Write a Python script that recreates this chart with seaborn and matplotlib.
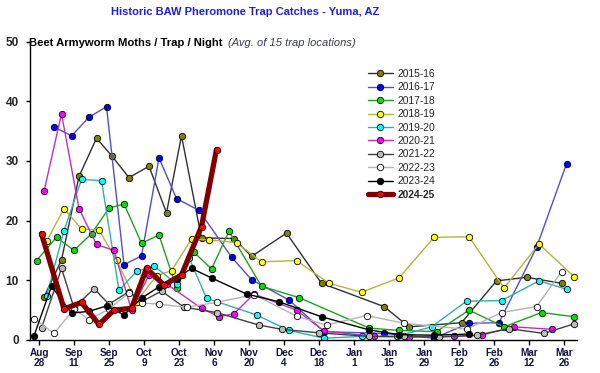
import matplotlib
matplotlib.use("Agg")
import matplotlib.pyplot as plt
import seaborn as sns

# days after Aug 28, and moths / trap / night, one pair of lists per season
days_2015 = [2, 9, 16, 23, 29, 36, 44, 51, 57, 65, 78, 85, 99, 113, 138, 148, 169, 183, 195, 209]
vals_2015 = [7.2, 13.4, 27.4, 33.8, 30.9, 27.2, 29.1, 21.3, 34.2, 17.1, 17.0, 14.0, 17.9, 9.5, 5.6, 2.2, 2.9, 9.9, 10.5, 9.5]

days_2016 = [6, 13, 20, 27, 34, 41, 48, 55, 64, 77, 85, 100, 114, 138, 158, 172, 184, 199, 211]
vals_2016 = [35.7, 34.2, 37.3, 39.1, 12.6, 14.1, 30.5, 23.7, 21.7, 13.9, 10.1, 6.7, 1.4, 1.1, 0.3, 2.8, 2.9, 15.5, 29.5]

days_2017 = [-1, 7, 14, 21, 28, 34, 41, 48, 55, 62, 69, 76, 89, 104, 132, 144, 159, 172, 186, 201, 214]
vals_2017 = [13.3, 17.2, 15.0, 17.8, 22.1, 22.8, 16.2, 17.6, 8.7, 14.7, 11.9, 18.2, 9.0, 7.1, 2.0, 1.6, 1.4, 5.0, 2.2, 4.6, 3.9]

days_2018 = [3, 10, 17, 24, 31, 39, 47, 53, 61, 68, 79, 89, 103, 116, 129, 144, 158, 172, 186, 200, 214]
vals_2018 = [16.5, 22.0, 18.6, 18.4, 13.4, 6.4, 10.8, 11.6, 16.9, 16.8, 16.3, 13.1, 13.3, 9.5, 8.0, 10.4, 17.2, 17.3, 8.7, 16.1, 10.6]

days_2019 = [3, 10, 17, 25, 32, 39, 46, 55, 60, 67, 87, 100, 114, 129, 143, 157, 171, 185, 200, 211]
vals_2019 = [7.3, 18.3, 26.9, 26.7, 8.3, 11.5, 12.4, 9.4, 13.8, 7.0, 4.2, 1.6, 0.3, 0.6, 0.6, 2.2, 6.5, 6.6, 9.9, 8.5]

days_2020 = [2, 9, 16, 23, 30, 37, 44, 51, 65, 72, 78, 86, 103, 114, 134, 148, 166, 177, 190, 205]
vals_2020 = [24.9, 37.9, 22.0, 16.0, 15.0, 5.0, 10.9, 9.4, 5.3, 3.9, 4.4, 7.7, 5.0, 1.5, 0.6, 0.5, 0.6, 0.8, 2.2, 1.8]

days_2021 = [1, 9, 14, 22, 28, 36, 41, 49, 58, 71, 88, 97, 112, 132, 146, 160, 175, 188, 202, 214]
vals_2021 = [2.0, 12.0, 5.4, 8.6, 6.0, 8.1, 6.4, 8.2, 5.5, 4.6, 2.5, 1.8, 1.2, 0.6, 0.6, 0.5, 0.8, 1.9, 1.1, 2.7]

days_2022 = [-2, 6, 14, 20, 28, 36, 41, 48, 59, 71, 86, 103, 115, 131, 146, 171, 185, 199, 209]
vals_2022 = [3.6, 1.1, 5.2, 3.4, 5.2, 7.9, 6.2, 6.0, 5.5, 6.3, 7.6, 4.0, 2.5, 4.1, 2.8, 1.8, 4.6, 5.6, 11.4]

days_2023 = [-2, 5, 13, 20, 27, 34, 41, 48, 55, 61, 69, 83, 96, 113, 132, 144, 158, 172]
vals_2023 = [0.7, 9.0, 4.5, 4.8, 5.7, 4.2, 7.0, 8.9, 10.3, 12.0, 10.4, 7.7, 6.4, 3.9, 1.7, 0.9, 0.8, 1.0]

days_2024 = [1, 10, 17, 24, 30, 37, 43, 50, 57, 65, 71]
vals_2024 = [17.8, 5.2, 6.3, 2.6, 5.0, 5.3, 12.0, 9.2, 10.9, 19.0, 31.9]

seasons = ["2015-16", "2016-17", "2017-18", "2018-19", "2019-20",
           "2020-21", "2021-22", "2022-23", "2023-24", "2024-25"]
season_days = [days_2015, days_2016, days_2017, days_2018, days_2019,
               days_2020, days_2021, days_2022, days_2023, days_2024]
season_vals = [vals_2015, vals_2016, vals_2017, vals_2018, vals_2019,
               vals_2020, vals_2021, vals_2022, vals_2023, vals_2024]

tick_days = list(range(0, 211, 14))
tick_labels = ["Aug\n28", "Sep\n11", "Sep\n25", "Oct\n9", "Oct\n23", "Nov\n6",
               "Nov\n20", "Dec\n4", "Dec\n18", "Jan\n1", "Jan\n15", "Jan\n29",
               "Feb\n12", "Feb\n26", "Mar\n12", "Mar\n26"]

line_colors = ["#303030", "#5050c8", "#20a020", "#b4b440", "#30b0b0",
               "#c030c0", "#404040", "#b4b4b4", "#000000", "#800000"]
face_colors = ["#808000", "#0000ff", "#00e000", "#ffff00", "#00ffff",
               "#ff00ff", "#bcbcbc", "#ffffff", "#000000", "#ff0000"]

sns.set_theme(style="ticks")
plt.rcParams["font.family"] = ["Liberation Sans", "DejaVu Sans"]

fig = plt.figure(figsize=(6, 3.73), dpi=100)
ax = fig.add_axes([29.5 / 600, 1 - 340 / 373, (577 - 29.5) / 600, (340 - 41.5) / 373])

for name, d, v, lc, fc in zip(seasons, season_days, season_vals, line_colors, face_colors):
    thick = name == "2024-25"
    sns.lineplot(x=d, y=v, ax=ax, color=lc, linewidth=3.8 if thick else 1.0,
                 marker="o", markersize=4.6, markerfacecolor=fc,
                 markeredgecolor="black", markeredgewidth=0.6,
                 estimator=None, sort=False, label=name)

ax.set_xlim(-3.8, 215.2)
ax.set_ylim(0, 50)
ax.set_yticks([0, 10, 20, 30, 40, 50])
ax.set_xticks(tick_days)
ax.set_xticklabels(tick_labels, fontsize=7.2, fontweight="bold", color="#14143c", linespacing=1.0)
ax.tick_params(axis="y", labelsize=8.5, length=3.2, width=1, pad=4.5, color="black")
ax.tick_params(axis="x", length=3.6, width=1, pad=2, color="black")
for lbl in ax.get_yticklabels():
    lbl.set_fontweight("bold")
ax.set_xlabel("")
ax.set_ylabel("")
sns.despine(ax=ax)
for side in ["left", "bottom"]:
    ax.spines[side].set_color("black")
    ax.spines[side].set_linewidth(1.0)

leg = ax.legend(loc="upper left", bbox_to_anchor=(368 / 600, 1 - 69 / 373),
                bbox_transform=fig.transFigure, frameon=False, fontsize=7.4,
                borderpad=0, borderaxespad=0, handlelength=2.4, handletextpad=0.5,
                labelspacing=0.33)
leg.get_texts()[-1].set_fontweight("bold")

fig.text(245 / 600, 1 - 12 / 373, "Historic BAW Pheromone Trap Catches - Yuma, AZ",
         ha="center", va="center", color="#1e1ef0", fontsize=8.0, fontweight="bold")
fig.text(29 / 600, 1 - 43 / 373, "Beet Armyworm Moths / Trap / Night",
         ha="left", va="center", color="black", fontsize=8.1, fontweight="bold")
fig.text(228 / 600, 1 - 43 / 373, "(Avg. of 15 trap locations)",
         ha="left", va="center", color="#3a3a55", fontsize=8.0, style="italic")

fig.savefig("out.png", dpi=100)
